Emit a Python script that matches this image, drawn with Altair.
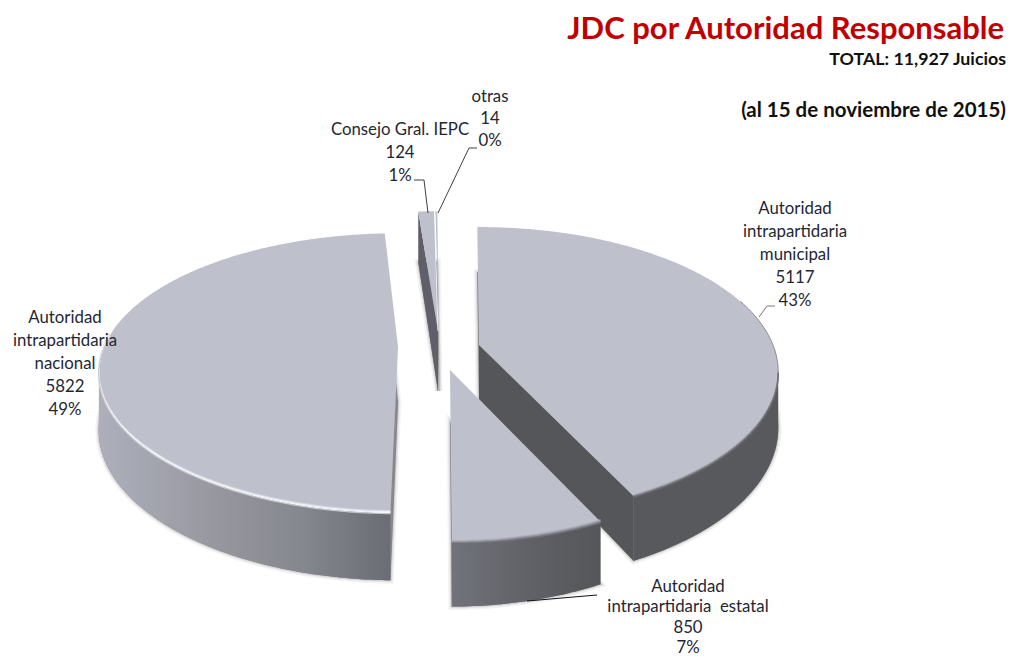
import math
import altair as alt

# ---- data ----
categories = ["Autoridad intrapartidaria municipal", "Autoridad intrapartidaria estatal",
              "Autoridad intrapartidaria nacional", "Consejo Gral. IEPC", "otras"]
values = [5117, 850, 5822, 124, 14]
percents = ["43%", "7%", "49%", "1%", "0%"]
label_lines = [["Autoridad", "intrapartidaria", "municipal"],
               ["Autoridad", "intrapartidaria \u00a0estatal"],
               ["Autoridad", "intrapartidaria", "nacional"],
               ["Consejo Gral. IEPC"],
               ["otras"]]
title_text = "JDC por Autoridad Responsable"
subtitle_text = "TOTAL: 11,927 Juicios"
date_text = "(al 15 de noviembre de 2015)"

# ---- layout of the tilted pie ----
A, B, P = 294.0, 142.0, 0.186
START = -0.4
apex = [(479, 345), (450, 370), (398, 347), (438, 331), (439, 331)]
ascale = [1.0, 0.975, 1.0, 1.0, 1.0]
bscale = [0.985, 0.99, 0.95, 1.0, 1.0]
rot = [0.0, 0.0, 1.5, 0.0, 0.0]
depth = [54, 52, 55, 60, 60]
label_pos = [(795, 209), (688, 587), (65, 318), (400, 130), (490, 97)]
LINE_H = [23, 20.4, 23, 23, 22]
TOP = "#BEC0CC"

total = sum(values)
edges = [START]
for v in values:
    edges.append(edges[-1] + 360.0 * v / total)


def pt(i, deg, z=0.0):
    t = math.radians(deg + rot[i])
    k = 1.0 / (1.0 + P * math.cos(t))
    ax, ay = apex[i]
    return [ax + A * ascale[i] * math.sin(t) * k, ay - B * bscale[i] * math.cos(t) * k + z * depth[i] * k]


def apex_pt(i, z=0.0):
    return [apex[i][0], apex[i][1] + z * depth[i]]


def arc(i, a, b, z=0.0, dy=0.0):
    n = max(2, int(abs(b - a) * 1.5))
    out = []
    for j in range(n + 1):
        p = pt(i, a + (b - a) * j / n, z)
        out.append([p[0], p[1] + dy])
    return out


def poly(coords, **mark):
    ring = coords + [coords[0]]
    feat = {"type": "Feature", "properties": {}, "geometry": {"type": "Polygon", "coordinates": [ring]}}
    return alt.Chart(alt.Data(values=[feat])).mark_geoshape(**mark)


def line(coords, color, width, opacity=1.0):
    feat = {"type": "Feature", "properties": {}, "geometry": {"type": "LineString", "coordinates": coords}}
    return alt.Chart(alt.Data(values=[feat])).mark_geoshape(
        filled=False, stroke=color, strokeWidth=width, strokeOpacity=opacity)


def hgrad(stops):
    return alt.Gradient(gradient="linear", x1=0, y1=0, x2=1, y2=0,
                        stops=[alt.GradientStop(offset=o, color=c) for o, c in stops])


layers = []
SIL = math.degrees(math.acos(-P))  # where the rim turns away from the viewer
a0, a1 = edges[0], edges[1]
b0, b1 = edges[1], edges[2]
c0, c1 = edges[2], edges[3]
d0, d1 = edges[3], edges[4]
e0, e1 = edges[4], edges[5]

# soft shadows under every slice
for i in range(5):
    s = [apex_pt(i, 1)] + arc(i, edges[i], edges[i + 1], 1)
    for w, op in [(7, 0.08), (4, 0.12), (2, 0.18)]:
        layers.append(poly(s, fill="#777777", fillOpacity=0.45, stroke="#777777", strokeWidth=w, strokeOpacity=op))

# small slices at the back
layers.append(poly([pt(3, d0), apex_pt(3), apex_pt(3, 1), pt(3, d0, 1)], fill="#5E5F68"))
layers.append(poly([apex_pt(3)] + arc(3, d0, d1), fill=TOP))
layers.append(poly([apex_pt(4)] + arc(4, e0, e1), fill=TOP))
layers.append(line([apex_pt(3), pt(3, d1)], "#FFFFFF", 0.8))

# nacional
rim = arc(2, c0, 360 - SIL)
layers.append(poly(rim + arc(2, c0, 360 - SIL, 1)[::-1],
                   fill=hgrad([(0, "#ADAFBB"), (0.45, "#94959C"), (0.7, "#85878E"), (1, "#6B6D74")])))
layers.append(poly([apex_pt(2)] + arc(2, c0, c1), fill=TOP))
rim_long = arc(2, c0, 360 - SIL + 14)
for dy, col, wd in [(-2, "#D3D6DE", 1.3), (-1, "#EDEFF3", 1.3), (0, "#F6F7F9", 1.3), (1, "#C5C7CE", 1.2)]:
    layers.append(line([[x, y + dy] for x, y in rim_long], col, wd))

# municipal
layers.append(poly([apex_pt(0), pt(0, a1), pt(0, a1, 1), apex_pt(0, 1)], fill="#55565A"))
layers.append(poly(arc(0, SIL, a1) + arc(0, SIL, a1, 1)[::-1], fill="#58595D"))
layers.append(poly([apex_pt(0)] + arc(0, a0, a1), fill=TOP))
layers.append(line(arc(0, SIL - 30, SIL), "#8A8B92", 1))
rim_m = arc(0, SIL, a1)
for dy, col, wd in [(-1, "#A9ABB5", 1.2), (0, "#8A8B92", 1.4), (1, "#6C6D73", 1.4)]:
    layers.append(line([[x, y + dy] for x, y in rim_m], col, wd))

# estatal
layers.append(poly(arc(1, b0, b1) + arc(1, b0, b1, 1)[::-1],
                   fill=hgrad([(0, "#71737B"), (0.5, "#616267"), (1, "#55565A")])))
layers.append(poly([apex_pt(1)] + arc(1, b0, b1), fill=TOP))
rim_e = arc(1, b0, b1)
for dy, col, wd in [(-2, "#B0B2BC", 1.2), (-1, "#9A9BA4", 1.3), (0, "#85868D", 1.3), (1, "#6F7076", 1.3)]:
    layers.append(line([[x, y + dy] for x, y in rim_e], col, wd))

# leader lines
layers.append(line([[428, 213], [424, 180], [414, 180]], "#404040", 1))
layers.append(line([[438, 213], [469, 148], [477, 148]], "#404040", 1))
layers.append(line([[759, 317], [767, 306], [775, 306]], "#7A7A7A", 1))
layers.append(line([[527, 601], [597, 595]], "#111111", 1))

# data labels
rows = []
for i in range(5):
    lines = label_lines[i] + [str(values[i]), percents[i]]
    x, y = label_pos[i]
    for j, s in enumerate(lines):
        rows.append({"t": s, "lon": x, "lat": y + j * LINE_H[i]})
labels = alt.Chart(alt.Data(values=rows)).mark_text(
    font="Lato", fontSize=16.8, color="#1F2733", align="center", baseline="middle"
).encode(longitude="lon:Q", latitude="lat:Q", text="t:N")
layers.append(labels)

# headings
heads = [(title_text, 39, 31.0, "#C00000", 1004), (subtitle_text, 65, 17.8, "#111111", 1006),
         (date_text, 117, 20.5, "#111111", 1006)]
for t, y, size, col, x in heads:
    layers.append(alt.Chart(alt.Data(values=[{"t": t, "lon": x, "lat": y}])).mark_text(
        font="Lato", fontSize=size, fontWeight="bold", color=col, align="right", baseline="alphabetic"
    ).encode(longitude="lon:Q", latitude="lat:Q", text="t:N"))

chart = alt.layer(*layers).project(type="identity", scale=1, translate=[-8, -8]).properties(
    width=1000, height=650, padding=0
).configure_view(stroke=None).configure(background="#FFFFFF")

chart.save("out.html", embed_options={"renderer": "svg", "actions": False})
